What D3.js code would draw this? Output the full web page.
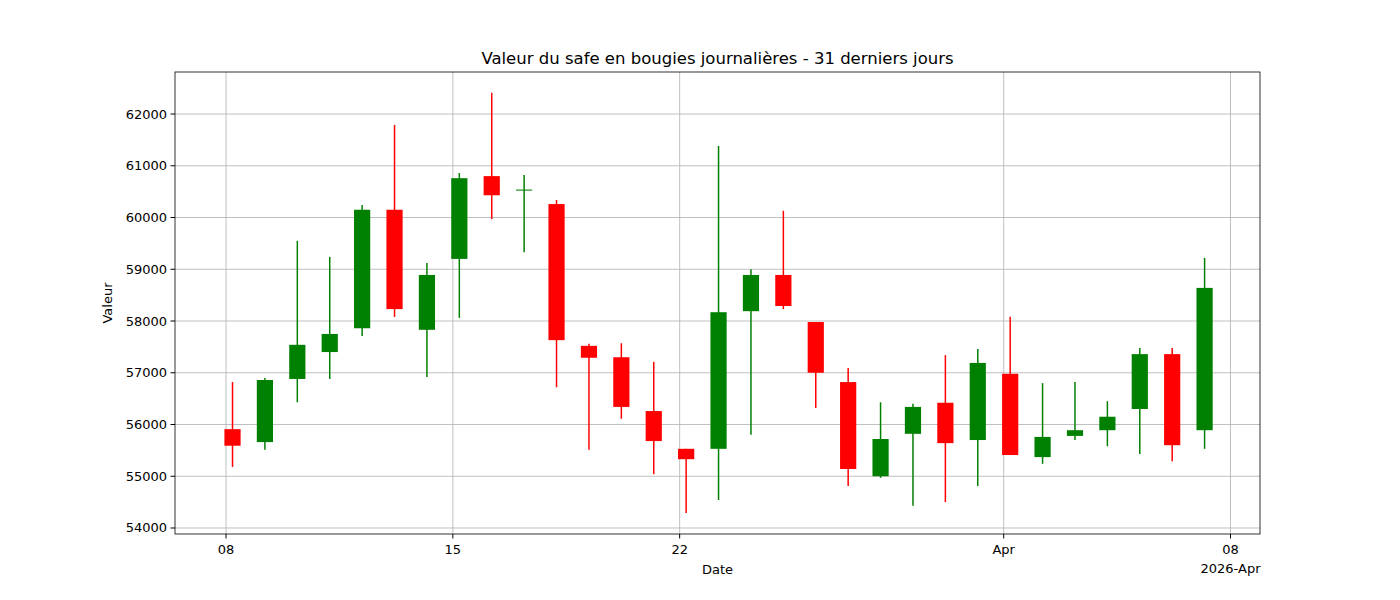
<!DOCTYPE html><html><head><meta charset="utf-8">
<script src="https://cdn.jsdelivr.net/npm/d3@7"></script>
<style>body{margin:0;background:#fff}text{font-family:"DejaVu Sans",sans-serif}</style></head><body>
<svg id="c" width="1400" height="600"></svg>
<script>
const dates=["2026-03-08","2026-03-09","2026-03-10","2026-03-11","2026-03-12","2026-03-13","2026-03-14","2026-03-15","2026-03-16","2026-03-17","2026-03-18","2026-03-19","2026-03-20","2026-03-21","2026-03-22","2026-03-23","2026-03-24","2026-03-25","2026-03-26","2026-03-27","2026-03-28","2026-03-29","2026-03-30","2026-03-31","2026-04-01","2026-04-02","2026-04-03","2026-04-04","2026-04-05","2026-04-06","2026-04-07"];
const open=[55910,55660,56880,57400,57860,60150,57830,59200,60800,60520,60260,57520,57300,56260,55530,55530,58190,58890,57980,56820,55000,55820,56420,55700,56980,55370,55780,55890,56300,57360,55890];
const close=[55590,56860,57540,57750,60150,58230,58890,60760,60430,60540,57630,57290,56340,55680,55330,58170,58890,58290,57000,55140,55720,56340,55640,57190,55410,55760,55890,56150,57360,55600,58640];
const high=[56820,56900,59550,59240,60240,61790,59120,60860,62410,60820,60340,57560,57570,57210,55530,61380,59000,60130,57980,57090,56430,56400,57340,57460,58080,56800,56820,56450,57480,57480,59220];
const low=[55180,55510,56430,56880,57710,58080,56920,58060,59970,59330,56720,55510,56110,55040,54290,54540,55800,58230,56320,54810,54970,54430,54500,54810,55410,55240,55700,55580,55430,55290,55530];
const yTicks=[54000,55000,56000,57000,58000,59000,60000,61000,62000];
const svg=d3.select("#c");
const L=175,R=1260,T=72,B=534;
const day=864e5;
const t0=new Date("2026-03-08T00:00:00Z").getTime();
const x=d3.scaleTime().domain([new Date(t0-1.575*day),new Date(t0+31.91*day)]).range([L,R]);
const y=d3.scaleLinear().domain([53884,62812]).range([B,T]);
const xt=[new Date("2026-03-08T00:00:00Z"),new Date("2026-03-15T00:00:00Z"),new Date("2026-03-22T00:00:00Z"),new Date("2026-04-01T00:00:00Z"),new Date("2026-04-08T00:00:00Z")];
const xl=["08","15","22","Apr","08"];
const g=svg.append("g");
xt.forEach(d=>g.append("line").attr("x1",x(d)).attr("x2",x(d)).attr("y1",T).attr("y2",B).attr("stroke","#b0b0b0").attr("stroke-width",0.8));
yTicks.forEach(v=>g.append("line").attr("x1",L).attr("x2",R).attr("y1",y(v)).attr("y2",y(v)).attr("stroke","#b0b0b0").attr("stroke-width",0.8));
const pos=i=>new Date(new Date(dates[i]+"T00:00:00Z").getTime()+0.2*day);
const bw=x(new Date(t0+0.5*day))-x(new Date(t0));
dates.forEach((d,i)=>{
  const col=close[i]>=open[i]?"green":"red";
  const cx=x(pos(i));
  g.append("line").attr("x1",cx).attr("x2",cx).attr("y1",y(high[i])).attr("y2",y(low[i])).attr("stroke",col).attr("stroke-width",1.5);
  const top=y(Math.max(open[i],close[i])),bot=y(Math.min(open[i],close[i]));
  g.append("rect").attr("x",cx-bw/2).attr("y",top).attr("width",bw).attr("height",Math.max(bot-top,1)).attr("fill",col);
});
svg.append("rect").attr("x",L).attr("y",T).attr("width",R-L).attr("height",B-T).attr("fill","none").attr("stroke","#000").attr("stroke-width",0.8);
xt.forEach((d,i)=>{
  svg.append("line").attr("x1",x(d)).attr("x2",x(d)).attr("y1",B).attr("y2",B+4.5).attr("stroke","#000");
  svg.append("text").attr("x",x(d)).attr("y",B+20).attr("text-anchor","middle").attr("font-size",13).text(xl[i]);
});
svg.append("text").attr("x",x(xt[4])).attr("y",B+39).attr("text-anchor","middle").attr("font-size",13).text("2026-Apr");
yTicks.forEach(v=>{
  svg.append("line").attr("x1",L-4.5).attr("x2",L).attr("y1",y(v)).attr("y2",y(v)).attr("stroke","#000");
  svg.append("text").attr("x",L-8).attr("y",y(v)+4.5).attr("text-anchor","end").attr("font-size",13).text(v);
});
svg.append("text").attr("x",(L+R)/2).attr("y",B+40).attr("text-anchor","middle").attr("font-size",13).text("Date");
svg.append("text").attr("transform",`translate(112,${(T+B)/2}) rotate(-90)`).attr("text-anchor","middle").attr("font-size",13).text("Valeur");
svg.append("text").attr("x",(L+R)/2).attr("y",T-8).attr("text-anchor","middle").attr("font-size",16.5).text("Valeur du safe en bougies journalières - 31 derniers jours");
</script></body></html>
